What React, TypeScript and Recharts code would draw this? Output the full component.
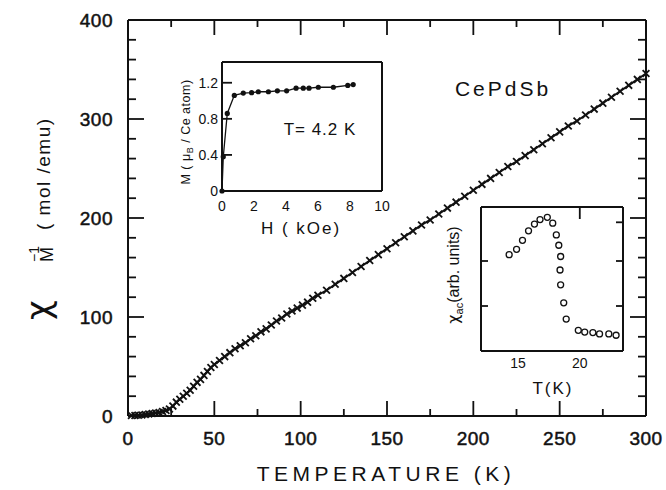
import React from 'react';
import { ScatterChart, Scatter, XAxis, YAxis } from 'recharts';

// main curve: inverse susceptibility vs temperature
const tempK = [
  2, 4, 6, 8, 10, 12, 14, 16, 18, 20, 22, 24, 26, 28, 30, 32, 34, 36, 38, 40,
  42, 44, 46, 48, 50, 53, 56, 59, 62, 65, 68, 71, 74, 77, 80, 83, 86, 89, 92, 95,
  98, 101, 104, 107, 110, 115, 120, 125, 130, 135, 140, 145, 150, 155, 160, 165,
  170, 175, 180, 185, 190, 195, 200, 205, 210, 215, 220, 225, 230, 235, 240, 245,
  250, 255, 260, 265, 270, 275, 280, 285, 290, 295, 300,
];
const invChi = [
  0.5, 0.5, 0.8, 1, 1.5, 2, 2.5, 3, 3.5, 4.5, 5.5, 7, 10, 14, 17, 20, 23, 26, 30, 34,
  37, 41, 45, 49, 52, 56, 60, 64, 68, 71, 74, 78, 81, 85, 88, 92, 96, 99, 103, 106,
  109, 112, 115, 119, 122, 127, 133, 139, 145, 151, 157, 163, 169, 175, 181, 187,
  193, 198, 204, 210, 216, 222, 228, 234, 240, 246, 252, 257, 263, 269, 275, 281,
  287, 293, 298, 304, 310, 316, 322, 328, 334, 340, 346,
];
const tempTicks = [0, 25, 50, 75, 100, 125, 150, 175, 200, 225, 250, 275, 300];
const invChiTicks = [0, 20, 40, 60, 80, 100, 120, 140, 160, 180, 200, 220, 240, 260, 280, 300, 320, 340, 360, 380, 400];

// inset 1: magnetization at 4.2 K
const fieldKOe = [0, 0.08, 0.33, 0.77, 1.33, 1.85, 2.27, 2.9, 3.46, 4.04, 4.63, 5.08, 5.44, 6.02, 6.96, 7.86, 8.2];
const moment = [0, 0.38, 0.86, 1.06, 1.085, 1.09, 1.1, 1.1, 1.11, 1.11, 1.14, 1.14, 1.14, 1.15, 1.15, 1.17, 1.18];
const fieldTicks = [0, 2, 4, 6, 8, 10];
const momentTicks = [0, 0.4, 0.8, 1.2];

// inset 2: ac susceptibility near the transition
const acTempK = [14.28, 14.88, 15.36, 15.85, 16.33, 16.78, 17.37, 17.81, 18.1, 18.3, 18.45, 18.4, 18.45, 18.7, 18.9, 19.88, 20.4, 21.06, 21.6, 22.35, 22.94];
const chiAc = [2.14, 2.26, 2.46, 2.67, 2.82, 2.92, 2.97, 2.84, 2.58, 2.35, 2.1, 1.8, 1.47, 1.07, 0.71, 0.46, 0.42, 0.41, 0.38, 0.38, 0.35];
const acTempTicks = [15, 20];
const acTopTicks = [20];
const chiAcLeftTicks = [1, 2];
const chiAcRightTicks = [1, 2, 2.86];

const mainData = tempK.map((t, i) => ({ t, v: invChi[i] }));
const magData = fieldKOe.map((h, i) => ({ h, m: moment[i] }));
const acData = acTempK.map((t, i) => ({ t, c: chiAc[i] }));

const INK = '#111';
const FONT = '"Liberation Sans", Arial, sans-serif';
const axisLine = { stroke: INK, strokeWidth: 2 };

// plot boxes (page px) – used for the frame ticks on the top/right edges
const MAIN_BOX = { x0: 128, x1: 646, y0: 20, y1: 416, d: [0, 300], r: [0, 400] };
const AC_BOX = { x0: 481, x1: 623, y0: 207, y1: 351, d: [12, 23.5], r: [0, 3.2] };

interface TickCfg {
  side: 'left' | 'bottom';
  len: (v: number) => number;
  label?: (v: number) => string;
  size?: number;
  gap?: number;
  spacing?: number;
  heavy?: boolean;
}

const makeTick = (cfg: TickCfg) => (props: any) => {
  const { x, y, payload } = props;
  const v = payload.value;
  const L = cfg.len(v);
  const txt = cfg.label ? cfg.label(v) : '';
  const gap = cfg.gap ?? 0;
  const textStyle = {
    fontSize: cfg.size, fontFamily: FONT, fill: INK, letterSpacing: cfg.spacing,
    stroke: cfg.heavy ? INK : 'none', strokeWidth: cfg.heavy ? 0.5 : 0,
  };
  if (cfg.side === 'left') {
    return (
      <g>
        {L > 0 && <line x1={x} y1={y} x2={x + L} y2={y} stroke={INK} strokeWidth={1.8} />}
        {txt !== '' && (
          <text x={x - gap} y={y} textAnchor="end" dominantBaseline="central" {...textStyle}>
            {txt}
          </text>
        )}
      </g>
    );
  }
  return (
    <g>
      {L > 0 && <line x1={x} y1={y} x2={x} y2={y - L} stroke={INK} strokeWidth={1.8} />}
      {txt !== '' && (
        <text x={x} y={y + gap} textAnchor="middle" {...textStyle}>
          {txt}
        </text>
      )}
    </g>
  );
};

const crossMark = (props: any) => {
  const { cx, cy } = props;
  const r = 3.4;
  return (
    <g stroke={INK} strokeWidth={1.8}>
      <line x1={cx - r} y1={cy - r} x2={cx + r} y2={cy + r} />
      <line x1={cx - r} y1={cy + r} x2={cx + r} y2={cy - r} />
    </g>
  );
};
const dotMark = (props: any) => <circle cx={props.cx} cy={props.cy} r={2.6} fill={INK} />;
const ringMark = (props: any) => <circle cx={props.cx} cy={props.cy} r={3} fill="#fff" stroke={INK} strokeWidth={1.3} />;
const noMark = () => <g />;

const axisCommon = { tickSize: 0, tickMargin: 0, tickLine: false, interval: 0 as const, axisLine };

const MainChart = () => (
  <ScatterChart width={666} height={490} margin={{ top: 19, right: 19, bottom: 0, left: 0 }}>
    <XAxis
      xAxisId="b" type="number" dataKey="t" domain={[0, 300]} ticks={tempTicks} height={74} {...axisCommon}
      tick={makeTick({
        side: 'bottom', len: (v) => (v % 50 === 0 ? 15 : 7),
        label: (v) => (v % 50 === 0 ? String(v) : ''), size: 19, gap: 29, spacing: 0.5, heavy: true,
      })}
    />
    <XAxis xAxisId="t" orientation="top" type="number" dataKey="t" domain={[0, 300]} height={1} {...axisCommon} tick={false} />
    <YAxis
      yAxisId="l" type="number" dataKey="v" domain={[0, 400]} ticks={invChiTicks} width={128} {...axisCommon}
      tick={makeTick({
        side: 'left', len: (v) => (v % 100 === 0 ? 16 : 8),
        label: (v) => (v % 100 === 0 ? String(v) : ''), size: 19, gap: 15, spacing: 0.5, heavy: true,
      })}
    />
    <YAxis yAxisId="r" orientation="right" type="number" dataKey="v" domain={[0, 400]} width={1} {...axisCommon} tick={false} />
    <Scatter xAxisId="t" yAxisId="r" data={mainData} shape={noMark} isAnimationActive={false} />
    <Scatter
      xAxisId="b" yAxisId="l" data={mainData} shape={crossMark}
      line={{ stroke: INK, strokeWidth: 2 }} lineType="joint" isAnimationActive={false}
    />
  </ScatterChart>
);

const MagInset = () => (
  <ScatterChart width={250} height={200} margin={{ top: 11, right: 17, bottom: 0, left: 0 }}>
    <XAxis
      xAxisId="b" type="number" dataKey="h" domain={[0, 10]} ticks={fieldTicks} height={59} {...axisCommon}
      tick={makeTick({ side: 'bottom', len: () => 0, label: (v) => String(v), size: 14, gap: 20 })}
    />
    <XAxis xAxisId="t" orientation="top" type="number" dataKey="h" domain={[0, 10]} height={1} {...axisCommon} tick={false} />
    <YAxis
      yAxisId="l" type="number" dataKey="m" domain={[0, 1.43]} ticks={momentTicks} width={72} {...axisCommon}
      tick={makeTick({ side: 'left', len: (v) => (v === 0 ? 0 : 10), label: (v) => (v === 0 ? '0' : v.toFixed(1)), size: 14, gap: 4 })}
    />
    <YAxis yAxisId="r" orientation="right" type="number" dataKey="m" domain={[0, 1.43]} width={1} {...axisCommon} tick={false} />
    <Scatter xAxisId="t" yAxisId="r" data={magData} shape={noMark} isAnimationActive={false} />
    <Scatter
      xAxisId="b" yAxisId="l" data={magData} shape={dotMark}
      line={{ stroke: INK, strokeWidth: 1.3 }} lineType="joint" isAnimationActive={false}
    />
  </ScatterChart>
);

const AcInset = () => (
  <ScatterChart width={200} height={210} margin={{ top: 11, right: 16, bottom: 0, left: 0 }}>
    <XAxis
      xAxisId="b" type="number" dataKey="t" domain={[12, 23.5]} ticks={acTempTicks} height={54} {...axisCommon}
      tick={makeTick({ side: 'bottom', len: () => 0, label: (v) => String(v), size: 14, gap: 17 })}
    />
    <XAxis xAxisId="t" orientation="top" type="number" dataKey="t" domain={[12, 23.5]} height={1} {...axisCommon} tick={false} />
    <YAxis
      yAxisId="l" type="number" dataKey="c" domain={[0, 3.2]} ticks={chiAcLeftTicks} width={41} {...axisCommon}
      tick={makeTick({ side: 'left', len: () => 7 })}
    />
    <YAxis yAxisId="r" orientation="right" type="number" dataKey="c" domain={[0, 3.2]} width={1} {...axisCommon} tick={false} />
    <Scatter xAxisId="t" yAxisId="r" data={acData} shape={noMark} isAnimationActive={false} />
    <Scatter xAxisId="b" yAxisId="l" data={acData} shape={ringMark} isAnimationActive={false} />
  </ScatterChart>
);

// ticks hanging from the top edge and pointing in from the right edge
const FrameTicks = ({ box, top, right, topLen, rightLen }: any) => {
  const sx = (t: number) => box.x0 + ((t - box.d[0]) / (box.d[1] - box.d[0])) * (box.x1 - box.x0);
  const sy = (v: number) => box.y1 - ((v - box.r[0]) / (box.r[1] - box.r[0])) * (box.y1 - box.y0);
  return (
    <g>
      {top.map((t: number) => (
        <line key={`t${t}`} x1={sx(t)} y1={box.y0} x2={sx(t)} y2={box.y0 + topLen(t)} stroke={INK} strokeWidth={1.8} />
      ))}
      {right.map((v: number) => (
        <line key={`r${v}`} x1={box.x1} y1={sy(v)} x2={box.x1 - rightLen(v)} y2={sy(v)} stroke={INK} strokeWidth={1.8} />
      ))}
    </g>
  );
};

const Labels = () => (
  <svg width={666} height={490} style={{ position: 'absolute', left: 0, top: 0, pointerEvents: 'none' }} fontFamily={FONT} fill={INK}>
    <FrameTicks
      box={MAIN_BOX} top={tempTicks} right={invChiTicks}
      topLen={(t: number) => (t % 50 === 0 ? 15 : 7)} rightLen={(v: number) => (v % 100 === 0 ? 16 : 8)}
    />
    <FrameTicks box={AC_BOX} top={acTopTicks} right={chiAcRightTicks} topLen={() => 12} rightLen={() => 7} />
    <g transform="translate(50,322) rotate(-90)">
      <text x={2} y={0} fontSize={34} fontFamily='"DejaVu Sans", sans-serif'>χ</text>
      <text x={60} y={3} fontSize={18}>M</text>
      <text x={60} y={-11} fontSize={14}>−1</text>
      <text x={92} y={0} fontSize={19} letterSpacing={1.5}>( mol /emu)</text>
    </g>
    <text x={386} y={481} textAnchor="middle" fontSize={21} letterSpacing={4.5}>TEMPERATURE (K)</text>
    <text x={503} y={96} textAnchor="middle" fontSize={21} letterSpacing={3}>CePdSb</text>
    <text x={320} y={135} textAnchor="middle" fontSize={17} letterSpacing={1}>T= 4.2 K</text>
    <text x={301} y={234} textAnchor="middle" fontSize={17} letterSpacing={2}>H ( kOe)</text>
    <text transform="translate(190,132) rotate(-90)" textAnchor="middle" fontSize={12.5} letterSpacing={0.5}>
      M ( μ<tspan fontSize={9} dy={3}>B</tspan><tspan dy={-3}> / Ce atom)</tspan>
    </text>
    <text x={553} y={394} textAnchor="middle" fontSize={17} letterSpacing={2}>T(K)</text>
    <text transform="translate(459,275) rotate(-90)" textAnchor="middle" fontSize={16}>
      <tspan fontFamily='"DejaVu Sans", sans-serif'>χ</tspan><tspan fontSize={11} dy={4}>ac</tspan><tspan dy={-4}>(arb. units)</tspan>
    </text>
  </svg>
);

const App: React.FC = () => (
  <div style={{ position: 'absolute', left: 0, top: 0, width: 666, height: 490, background: '#fff' }}>
    <div style={{ position: 'absolute', left: 0, top: 0 }}>
      <MainChart />
    </div>
    <div style={{ position: 'absolute', left: 150, top: 50 }}>
      <MagInset />
    </div>
    <div style={{ position: 'absolute', left: 440, top: 195 }}>
      <AcInset />
    </div>
    <Labels />
  </div>
);

export default App;
